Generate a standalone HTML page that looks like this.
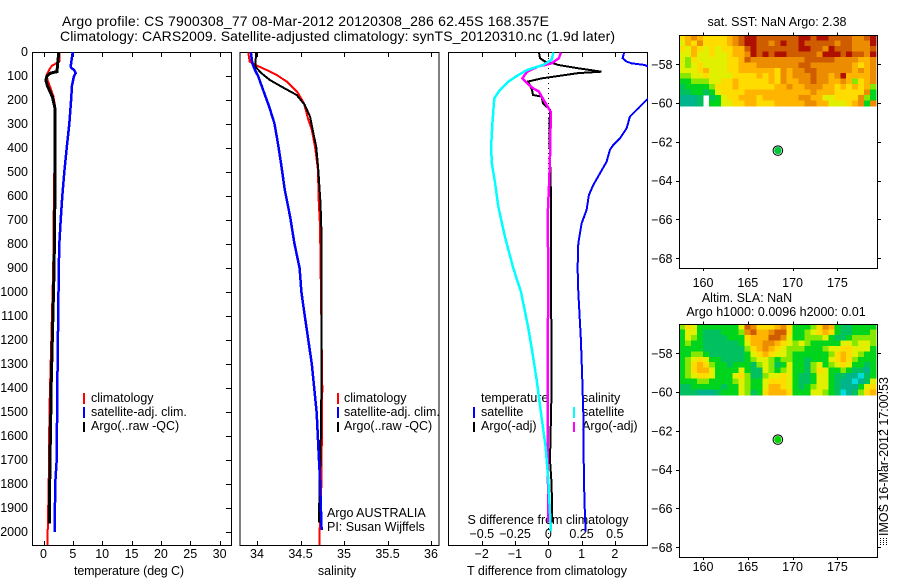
<!DOCTYPE html>
<html lang="en">
<head>
<meta charset="utf-8">
<title>Argo profile CS 7900308_77</title>
<style>
html,body{margin:0;padding:0;background:#fff;}
svg{display:block;font-family:"Liberation Sans",sans-serif;font-size:12.5px;fill:#000;}
.ax{fill:none;stroke:#000;stroke-width:1;shape-rendering:crispEdges;}
.sw{shape-rendering:crispEdges;}
</style>
</head>
<body>
<svg id="fig" xmlns="http://www.w3.org/2000/svg" width="900" height="580" viewBox="0 0 900 580">
<defs>
<clipPath id="clip1"><rect x="32" y="52" width="199" height="493"/></clipPath>
<clipPath id="clip2"><rect x="240" y="52" width="199" height="493"/></clipPath>
<clipPath id="clip3"><rect x="449" y="52" width="199" height="493"/></clipPath>
</defs>

<text x="62" y="26" font-size="14" textLength="487" lengthAdjust="spacing">Argo profile: CS 7900308_77 08-Mar-2012 20120308_286 62.45S 168.357E</text>
<text x="60" y="41" font-size="14" textLength="555" lengthAdjust="spacing">Climatology: CARS2009. Satellite-adjusted climatology: synTS_20120310.nc (1.9d later)</text>

<g id="p1">
<rect class="ax" x="32.5" y="52.5" width="199" height="493"/>
<g id="p1ticks"></g>
<text x="129" y="575" text-anchor="middle" textLength="110" lengthAdjust="spacing">temperature (deg C)</text>
<g>
<rect class="sw" x="83" y="393" width="2" height="11" fill="#f00"/>
<text x="91" y="402">climatology</text>
<rect class="sw" x="83" y="407" width="2" height="11" fill="#00f"/>
<text x="91" y="416">satellite-adj. clim.</text>
<rect class="sw" x="83" y="422" width="2" height="10" fill="#000"/>
<text x="91" y="430">Argo(..raw -QC)</text>
</g>
<g id="p1lines" clip-path="url(#clip1)"></g>
</g>

<g id="p2">
<rect class="ax" x="240" y="52.5" width="199" height="493"/>
<g id="p2ticks"></g>
<text x="337" y="575" text-anchor="middle">salinity</text>
<g>
<rect class="sw" x="337" y="393" width="2" height="11" fill="#f00"/>
<text x="344" y="402">climatology</text>
<rect class="sw" x="337" y="407" width="2" height="11" fill="#00f"/>
<text x="344" y="416">satellite-adj. clim.</text>
<rect class="sw" x="337" y="422" width="2" height="10" fill="#000"/>
<text x="344" y="430">Argo(..raw -QC)</text>
</g>
<text x="327" y="517">Argo AUSTRALIA</text>
<text x="327" y="531">PI: Susan Wijffels</text>
<g id="p2lines" clip-path="url(#clip2)"></g>
</g>

<g id="p3">
<rect class="ax" x="448.5" y="52.5" width="199" height="493"/>
<g id="p3ticks"></g>
<text x="547" y="575" text-anchor="middle">T difference from climatology</text>
<text x="548" y="524" text-anchor="middle">S difference from climatology</text>
<g>
<text x="481" y="402">temperature</text>
<rect class="sw" x="473" y="407" width="2" height="11" fill="#00f"/>
<text x="481" y="416">satellite</text>
<rect class="sw" x="473" y="422" width="2" height="10" fill="#000"/>
<text x="481" y="430">Argo(-adj)</text>
<text x="582" y="402">salinity</text>
<rect class="sw" x="573" y="407" width="2" height="11" fill="#0ff"/>
<text x="582" y="416">satellite</text>
<rect class="sw" x="573" y="422" width="2" height="10" fill="#f0f"/>
<text x="582" y="430">Argo(-adj)</text>
</g>
<line x1="548.5" x2="548.5" y1="53" y2="545" stroke="#000" stroke-width="1" stroke-dasharray="1 4" shape-rendering="crispEdges"/>
<g id="p3lines" clip-path="url(#clip3)"></g>
</g>

<g id="m1">
<text x="777" y="26" text-anchor="middle">sat. SST: NaN Argo: 2.38</text>
<g id="m1cells"></g>
<rect class="ax" x="679.5" y="35.5" width="198" height="233"/>
<g id="m1ticks"></g>
<g id="m1pt"></g>
</g>

<g id="m2">
<text x="747" y="302" text-anchor="middle">Altim. SLA: NaN</text>
<text x="776" y="316" text-anchor="middle">Argo h1000: 0.0096 h2000: 0.01</text>
<g id="m2cells"></g>
<rect class="ax" x="679.5" y="324.5" width="198" height="233"/>
<g id="m2ticks"></g>
<g id="m2pt"></g>
</g>

<text transform="translate(888,536) rotate(-90)" textLength="159" lengthAdjust="spacing">IMOS 16-Mar-2012 17:00:53</text>
<g stroke="#000" stroke-width="1" shape-rendering="crispEdges" stroke-dasharray="1 1">
<line x1="880.5" x2="880.5" y1="538" y2="545"/>
<line x1="883.5" x2="883.5" y1="538" y2="545"/>
<line x1="886.5" x2="886.5" y1="538" y2="545"/>
</g>
</svg>

<script>
/* ---------- axis tick labels ---------- */
const depthTicks = [0,100,200,300,400,500,600,700,800,900,1000,1100,1200,1300,1400,1500,1600,1700,1800,1900,2000];
const tempTicks = [0,5,10,15,20,25,30];
const salTicks = [34,34.5,35,35.5,36];
const tDiffTicks = [-2,-1,0,1,2];
const sDiffTicks = [-0.5,-0.25,0,0.25,0.5];
const lonTicks = [160,165,170,175];
const latTicks = [-58,-60,-62,-64,-66,-68];

/* ---------- temperature profiles: depth (m) and deg C ---------- */
const tClimDepth = [0,40,58,75,96,117,144,186,228,300,680,900,1400,1500,1800,2000,2054];
const tClimVal   = [2.75,2.7,1.4,0.94,0.54,0.7,1.1,1.7,1.96,1.95,1.74,1.66,1.1,1.0,0.88,0.72,0.72];
const tSatDepth  = [0,60,65,75,88,100,140,200,300,400,500,600,700,800,900,1400,1700,1800,2000];
const tSatVal    = [4.97,4.63,4.7,5.2,5.5,5.2,4.85,4.7,4.4,3.95,3.55,3.2,2.93,2.7,2.6,2.35,2.25,2.0,1.9];
const tArgoDepth = [0,50,82,88,100,117,144,186,228,255,600,900,1400,1500,1700,1900,1965];
const tArgoVal   = [2.6,2.4,2.3,1.2,0.6,0.4,0.72,1.5,1.9,2.0,1.95,1.8,1.3,1.25,1.1,1.0,1.0];

/* ---------- salinity profiles ---------- */
const sClimDepth = [2,40,54,75,96,123,170,214,270,325,394,491,630,722,1400,1800,2000,2054];
const sClimVal   = [33.9,33.916,33.985,34.11,34.226,34.34,34.47,34.54,34.58,34.63,34.667,34.7,34.71,34.724,34.75,34.74,34.72,34.72];
const sSatDepth  = [2,47,75,102,158,228,297,380,463,575,686,797,901,1000,1100,1200,1300,1370,1504,1643,1783,1992];
const sSatVal    = [33.93,33.946,33.977,34.015,34.07,34.14,34.2,34.24,34.276,34.32,34.38,34.43,34.49,34.51,34.55,34.59,34.63,34.65,34.686,34.705,34.724,34.743];
const sArgoDepth = [2,61,88,117,144,179,221,270,325,394,491,630,770,1400,1700,1800,1960];
const sArgoVal   = [33.99,33.98,34.05,34.15,34.28,34.456,34.55,34.61,34.64,34.68,34.705,34.73,34.743,34.74,34.73,34.72,34.712];

/* ---------- difference profiles ---------- */
const dTSatDepth = [2,26,40,47,54,61,80,100,150,193,235,269,318,360,388,408,457,506,554,596,658,714,797,901,1000,1200,1367,1505,1783,1922,1998];
const dTSatVal   = [2.28,2.23,2.35,2.5,2.9,3.0,4,4.5,3.8,3.0,2.7,2.45,2.35,2.15,1.95,1.85,1.75,1.55,1.35,1.22,1.15,1.0,0.9,0.88,0.9,0.98,1.02,1.05,1.07,1.1,1.12];
const dTArgoDepth = [2,26,40,47,54,68,82,88,110,123,158,179,186,214,241,325,600,900,1400,1700,1800,1960];
const dTArgoVal   = [-0.28,-0.25,-0.1,0.15,0.3,0.9,1.6,0.9,-0.2,-0.6,-0.49,-0.46,-0.2,-0.16,0.05,0.03,0.08,0.08,0.1,0.05,0.1,0.12];
const dSSatDepth = [2,33,54,75,96,123,158,193,297,394,463,546,644,769,901,1000,1150,1250,1367,1505,1644,1783,1922,1998];
const dSSatVal   = [0.038,0.025,-0.04,-0.16,-0.225,-0.3,-0.363,-0.406,-0.42,-0.43,-0.425,-0.4,-0.376,-0.326,-0.263,-0.205,-0.15,-0.12,-0.087,-0.055,-0.02,0,0.013,0.02];
const dSArgoDepth = [2,26,47,61,82,110,130,151,165,186,221,249,394,530,690,900,1400,1600,1800,1960];
const dSArgoVal   = [0.095,0.08,0.025,-0.077,-0.16,-0.195,-0.16,-0.115,-0.07,-0.05,-0.012,0.018,0.015,0.0075,-0.005,0,-0.005,-0.005,-0.002,-0.002];

/* ---------- heatmaps: colour-class values, null = no data ---------- */
const heatColors = ['#00dcdc','#00b48c','#00c060','#00d41c','#86e800','#e0f000','#ffdc00','#ffb400','#ec8c00','#d05c00','#b01000'];
const sstGrid = [
[6,7,8,7,6,6,6,6,7,8,9,10,10,9,9,9,9,9,9,9,10,10,9,10,10,9,9,9,9,8,8,9,10],
[5,7,6,8,6,6,6,6,7,8,9,10,10,9,9,8,9,10,9,9,10,9,9,9,9,9,8,9,9,8,8,8,10],
[6,5,7,6,5,6,5,6,6,7,7,9,10,9,9,9,9,9,9,9,10,10,9,9,8,10,9,9,9,8,8,8,9],
[5,5,7,5,5,6,5,5,6,7,7,8,10,9,10,9,10,10,9,9,9,9,9,8,10,10,10,9,10,9,9,8,10],
[5,4,6,5,5,5,5,5,6,6,7,9,8,8,8,8,8,8,8,8,8,9,9,9,9,9,8,8,8,8,7,7,8],
[5,4,5,6,5,5,5,5,6,6,7,7,7,8,8,8,8,8,8,8,9,9,8,8,8,8,8,8,8,7,6,7,8],
[5,5,5,6,7,5,5,5,6,6,7,7,7,7,7,7,6,8,7,8,8,9,9,8,8,8,8,8,8,7,8,7,8],
[4,4,5,5,6,5,5,5,5,6,6,6,6,7,6,7,6,8,7,8,8,8,9,8,8,7,8,10,7,7,7,7,8],
[3,3,4,4,4,5,5,6,6,7,6,6,6,6,6,7,6,8,7,7,8,8,9,8,8,7,7,8,7,4,6,7,8],
[2,3,3,3,3,4,6,6,6,7,6,6,6,6,6,6,7,7,8,7,7,8,8,8,7,7,6,7,6,7,6,7,4],
[2,2,3,3,2,3,5,6,6,6,6,7,7,7,7,7,7,7,7,7,7,7,8,7,7,7,6,6,6,6,6,8,3],
[1,1,1,2,null,2,3,5,6,6,7,7,7,6,7,7,7,7,7,7,8,8,7,7,5,5,6,6,6,6,8,4,3],
[1,1,1,2,null,3,3,5,5,6,6,7,7,6,6,6,7,7,7,7,7,8,8,7,7,5,5,5,6,7,8,3,8]
];
const slaGrid = [
[4,6,5,3,3,3,3,3,3,3,5,9,8,6,6,6,7,8,6,3,3,3,4,6,8,7,3,2,2,3,3,3,3],
[3,5,5,3,2,2,2,3,3,3,4,8,9,7,7,8,9,9,6,3,3,4,5,6,7,6,3,2,2,3,3,3,4],
[3,5,4,3,2,2,2,2,3,3,3,6,7,7,7,9,9,8,5,3,3,4,4,4,5,3,2,2,3,4,4,4,4],
[3,4,3,3,2,2,2,2,2,2,3,5,7,7,8,8,7,6,5,4,5,4,3,3,3,3,3,5,5,4,5,5,4],
[3,3,3,3,2,2,2,2,2,2,2,4,6,7,8,7,6,5,4,4,4,3,3,3,4,5,5,6,6,5,5,5,3],
[3,3,4,4,3,2,2,2,2,2,2,3,5,6,7,6,5,5,4,3,3,3,3,3,3,4,6,7,6,5,4,3,3],
[3,4,5,6,5,3,3,2,2,2,2,3,4,5,5,4,3,4,4,3,3,2,3,3,3,5,6,7,6,4,3,3,3],
[3,4,6,7,6,4,3,3,2,3,3,3,2,4,5,4,2,3,5,3,3,2,4,5,3,4,5,6,5,3,3,2,3],
[3,4,6,7,7,5,3,3,3,3,5,3,2,2,5,4,3,4,5,3,3,2,4,6,5,3,3,4,3,2,2,1,3],
[3,4,5,6,6,5,3,3,3,5,6,4,2,2,4,5,5,6,5,3,2,2,3,5,5,3,2,2,1,1,0,2,3],
[3,3,3,4,4,3,3,3,3,4,5,4,3,3,5,6,6,6,5,3,2,2,3,5,5,3,2,1,1,0,1,2,5],
[2,2,3,3,3,3,3,2,3,3,5,4,3,3,5,7,7,6,5,3,2,3,4,5,5,3,2,1,1,1,3,5,6],
[2,2,2,1,1,1,2,3,3,3,5,4,2,3,6,7,7,7,6,3,3,3,5,5,4,3,2,0,1,2,4,6,7]
];
const argoLon = 168.357;
const argoLat = -62.45;

/* ---------- axis functions ---------- */
const NS = 'http://www.w3.org/2000/svg';
const yDepth = d => 52 + d * 0.24;
const xTemp  = t => 43.5 + t * 5.87;
const xSal   = s => 257 + (s - 34) * 87;
const xTd    = t => 548.3 + t * 33.3;
const xSd    = s => 548.3 + s * 133;
const xLon   = lon => 703 + (lon - 160) * 8.96;
const yLat   = (lat, top) => top + (-56.49 - lat) * 19.4;

const fmt = v => (v < 0 ? '\u2212' + Math.abs(v) : String(v));

function addText(parent, x, y, str, anchor, name) {
  const t = document.createElementNS(NS, 'text');
  t.setAttribute('x', x);
  t.setAttribute('y', y);
  t.setAttribute('text-anchor', anchor);
  
  
  t.textContent = str;
  parent.appendChild(t);
}
function addTick(parent, x1, y1, x2, y2, name) {
  const l = document.createElementNS(NS, 'line');
  l.setAttribute('x1', x1);
  l.setAttribute('y1', y1);
  l.setAttribute('x2', x2);
  l.setAttribute('y2', y2);
  l.setAttribute('stroke', '#000');
  l.setAttribute('stroke-width', '1');
  l.setAttribute('shape-rendering', 'crispEdges');
  
  
  parent.appendChild(l);
}
function addSeries(id, depths, vals, xf, color, width, name) {
  const p = document.createElementNS(NS, 'polyline');
  p.setAttribute('points', depths.map((d, i) => xf(vals[i]).toFixed(1) + ',' + yDepth(d).toFixed(1)).join(' '));
  p.setAttribute('fill', 'none');
  p.setAttribute('stroke', color);
  p.setAttribute('stroke-width', width);
  p.setAttribute('shape-rendering', 'crispEdges');
  
  
  document.getElementById(id).appendChild(p);
}
function xTicks(parent, ticks, xf, labelY, name) {
  ticks.forEach(v => {
    const x = Math.round(xf(v)) + 0.5;
    addTick(parent, x, 52, x, 57, name + '-tick-top');
    addTick(parent, x, 541, x, 545, name + '-tick-bottom');
    addText(parent, xf(v), labelY, fmt(v), 'middle', name + '-tick-label');
  });
}

/* ---------- profile panels ---------- */
const p1t = document.getElementById('p1ticks');
depthTicks.forEach(d => {
  const y = Math.round(yDepth(d)) + 0.5;
  addTick(p1t, 226, y, 231, y, 'depth-tick-right');
  addText(p1t, 28, yDepth(d) + 4, String(d), 'end', 'depth-tick-label');
});
xTicks(p1t, tempTicks, xTemp, 558, 'temperature');
xTicks(document.getElementById('p2ticks'), salTicks, xSal, 558, 'salinity');
const p3t = document.getElementById('p3ticks');
xTicks(p3t, tDiffTicks, xTd, 558, 't-difference');
sDiffTicks.forEach(v => addText(p3t, xSd(v), 538, fmt(v), 'middle', 's-difference-tick-label'));

addSeries('p1lines', tClimDepth, tClimVal, xTemp, '#f00', 2, 'temperature-climatology-line');
addSeries('p1lines', tSatDepth, tSatVal, xTemp, '#00f', 2.5, 'temperature-satellite-line');
addSeries('p1lines', tArgoDepth, tArgoVal, xTemp, '#000', 3, 'temperature-argo-line');

addSeries('p2lines', sClimDepth, sClimVal, xSal, '#f00', 2, 'salinity-climatology-line');
addSeries('p2lines', sArgoDepth, sArgoVal, xSal, '#000', 2, 'salinity-argo-line');
addSeries('p2lines', sSatDepth, sSatVal, xSal, '#00f', 2.5, 'salinity-satellite-line');

addSeries('p3lines', dTArgoDepth, dTArgoVal, xTd, '#000', 2, 't-difference-argo-line');
addSeries('p3lines', dTSatDepth, dTSatVal, xTd, '#00f', 2, 't-difference-satellite-line');
addSeries('p3lines', dSArgoDepth, dSArgoVal, xSd, '#f0f', 2.5, 's-difference-argo-line');
addSeries('p3lines', dSSatDepth, dSSatVal, xSd, '#0ff', 2.5, 's-difference-satellite-line');

/* ---------- maps ---------- */
function drawMap(prefix, grid, top, bottom, labelBase, ptColor, name) {
  const cellsG = document.getElementById(prefix + 'cells');
  const dLon = 22 / grid[0].length;
  const dLat = 0.2815;
  const lon0 = 157.32;
  grid.forEach((row, r) => {
    row.forEach((v, c) => {
      if (v === null) return;
      const x0 = xLon(lon0 + c * dLon);
      const x1 = xLon(lon0 + (c + 1) * dLon);
      const y0 = yLat(-56.49 - r * dLat, top);
      const y1 = yLat(-56.49 - (r + 1) * dLat, top);
      const cell = document.createElementNS(NS, 'rect');
      cell.setAttribute('x', x0.toFixed(1));
      cell.setAttribute('y', y0.toFixed(1));
      cell.setAttribute('width', (x1 - x0 + 0.4).toFixed(1));
      cell.setAttribute('height', (y1 - y0 + 0.4).toFixed(1));
      cell.setAttribute('fill', heatColors[v]);
      cell.setAttribute('shape-rendering', 'crispEdges');
      
      
      cellsG.appendChild(cell);
    });
  });
  const tg = document.getElementById(prefix + 'ticks');
  lonTicks.forEach(lon => {
    const x = Math.round(xLon(lon)) + 0.5;
    addTick(tg, x, top - 2.5, x, top + 0.5, name + '-lon-tick-top');
    addTick(tg, x, bottom, x, bottom + 3, name + '-lon-tick-bottom');
    addText(tg, xLon(lon), labelBase, String(lon), 'middle', name + '-lon-tick-label');
  });
  latTicks.forEach(lat => {
    const y = Math.round(yLat(lat, top)) + 0.5;
    addTick(tg, 676, y, 679, y, name + '-lat-tick-left');
    addTick(tg, 878, y, 881, y, name + '-lat-tick-right');
    addText(tg, 672.5, yLat(lat, top) + 4.5, fmt(lat), 'end', name + '-lat-tick-label');
  });
  const pg = document.getElementById(prefix + 'pt');
  const cx = xLon(argoLon);
  const cy = yLat(argoLat, top);
  const ring = document.createElementNS(NS, 'circle');
  ring.setAttribute('cx', cx);
  ring.setAttribute('cy', cy);
  ring.setAttribute('r', 4.8);
  ring.setAttribute('fill', '#fff');
  ring.setAttribute('stroke', '#000');
  ring.setAttribute('stroke-width', '1');
  
  
  pg.appendChild(ring);
  const dot = document.createElementNS(NS, 'circle');
  dot.setAttribute('cx', cx);
  dot.setAttribute('cy', cy);
  dot.setAttribute('r', 3.7);
  dot.setAttribute('fill', ptColor);
  
  
  pg.appendChild(dot);
}
drawMap('m1', sstGrid, 35, 268, 287, '#00c83c', 'sst-map');
drawMap('m2', slaGrid, 324, 557, 571, '#00d800', 'sla-map');
</script>
</body>
</html>
